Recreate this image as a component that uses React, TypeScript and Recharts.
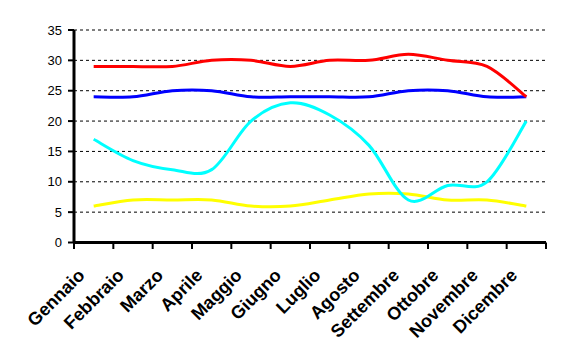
import React from 'react';
import { LineChart, Line, XAxis, YAxis, CartesianGrid } from 'recharts';

const months = ['Gennaio', 'Febbraio', 'Marzo', 'Aprile', 'Maggio', 'Giugno', 'Luglio', 'Agosto', 'Settembre', 'Ottobre', 'Novembre', 'Dicembre'];
const rossa = [29, 29, 29, 30, 30, 29, 30, 30, 31, 30, 29, 24];
const blu = [24, 24, 25, 25, 24, 24, 24, 24, 25, 25, 24, 24];
const ciano = [17, 13.5, 12, 12, 20, 23, 21, 16, 7, 9.4, 10, 20];
const gialla = [6, 7, 7, 7, 6, 6, 7, 8, 8, 7, 7, 6];
const yTicks = [0, 5, 10, 15, 20, 25, 30, 35];

const data = months.map((m, i) => ({ mese: m, rossa: rossa[i], blu: blu[i], ciano: ciano[i], gialla: gialla[i] }));

const W = 547;
const H = 346;
const M = { top: 22, right: 9, left: 6, bottom: 0 };
const Y_W = 60;
const X_H = 111.5;
const PLOT_W = W - M.left - M.right - Y_W;
const BAND = PLOT_W / months.length;
const FONT = '"Liberation Sans", Arial, sans-serif';

// Excel-like smoothing (Catmull-Rom as cubic Bezier)
function excelSmooth(context: any) {
  let pts: number[][] = [];
  return {
    areaStart() {},
    areaEnd() {},
    lineStart() { pts = []; },
    point(x: number, y: number) { pts.push([+x, +y]); },
    lineEnd() {
      if (!pts.length) return;
      context.moveTo(pts[0][0], pts[0][1]);
      for (let i = 0; i < pts.length - 1; i++) {
        const p0 = pts[i - 1] || pts[i];
        const p1 = pts[i];
        const p2 = pts[i + 1];
        const p3 = pts[i + 2] || p2;
        context.bezierCurveTo(
          p1[0] + (p2[0] - p0[0]) / 6, p1[1] + (p2[1] - p0[1]) / 6,
          p2[0] - (p3[0] - p1[0]) / 6, p2[1] - (p3[1] - p1[1]) / 6,
          p2[0], p2[1]
        );
      }
    },
  };
}

function MonthTick(props: any) {
  const { x, y, payload, index } = props;
  const axisY = y - 8;
  const half = BAND / 2;
  return (
    <g>
      <line x1={x - half} x2={x - half} y1={axisY} y2={axisY + 6.5} stroke="#000" strokeWidth={2} />
      {index === months.length - 1 && (
        <line x1={x + half} x2={x + half} y1={axisY} y2={axisY + 6.5} stroke="#000" strokeWidth={2} />
      )}
      <text
        x={0}
        y={0}
        transform={`translate(${x - 8},${axisY + 34}) rotate(-45)`}
        textAnchor="end"
        fontSize={18}
        fontWeight="bold"
        fontFamily={FONT}
        fill="#000"
      >
        {payload.value}
      </text>
    </g>
  );
}

export default function App() {
  return (
    <div style={{ width: W, height: H, background: '#fff' }}>
      <LineChart width={W} height={H} data={data} margin={M}>
        <CartesianGrid vertical={false} stroke="#000" strokeDasharray="3 3" strokeWidth={1} />
        <XAxis
          dataKey="mese"
          interval={0}
          height={X_H}
          padding={{ left: BAND / 2, right: BAND / 2 }}
          axisLine={{ stroke: '#000', strokeWidth: 3 }}
          tickLine={false}
          tickSize={6}
          tickMargin={2}
          tick={<MonthTick />}
        />
        <YAxis
          type="number"
          domain={[0, 35]}
          ticks={yTicks}
          interval={0}
          width={Y_W}
          axisLine={{ stroke: '#000', strokeWidth: 3 }}
          tickLine={{ stroke: '#000', strokeWidth: 2 }}
          tickSize={6}
          tickMargin={6}
          tick={{ fill: '#000', fontSize: 13, fontFamily: FONT }}
        />
        <Line dataKey="gialla" type={excelSmooth as any} stroke="#FFFF00" strokeWidth={3} dot={false} isAnimationActive={false} />
        <Line dataKey="ciano" type={excelSmooth as any} stroke="#00FFFF" strokeWidth={3} dot={false} isAnimationActive={false} />
        <Line dataKey="blu" type={excelSmooth as any} stroke="#0000FF" strokeWidth={3} dot={false} isAnimationActive={false} />
        <Line dataKey="rossa" type={excelSmooth as any} stroke="#FF0000" strokeWidth={3} dot={false} isAnimationActive={false} />
      </LineChart>
    </div>
  );
}
